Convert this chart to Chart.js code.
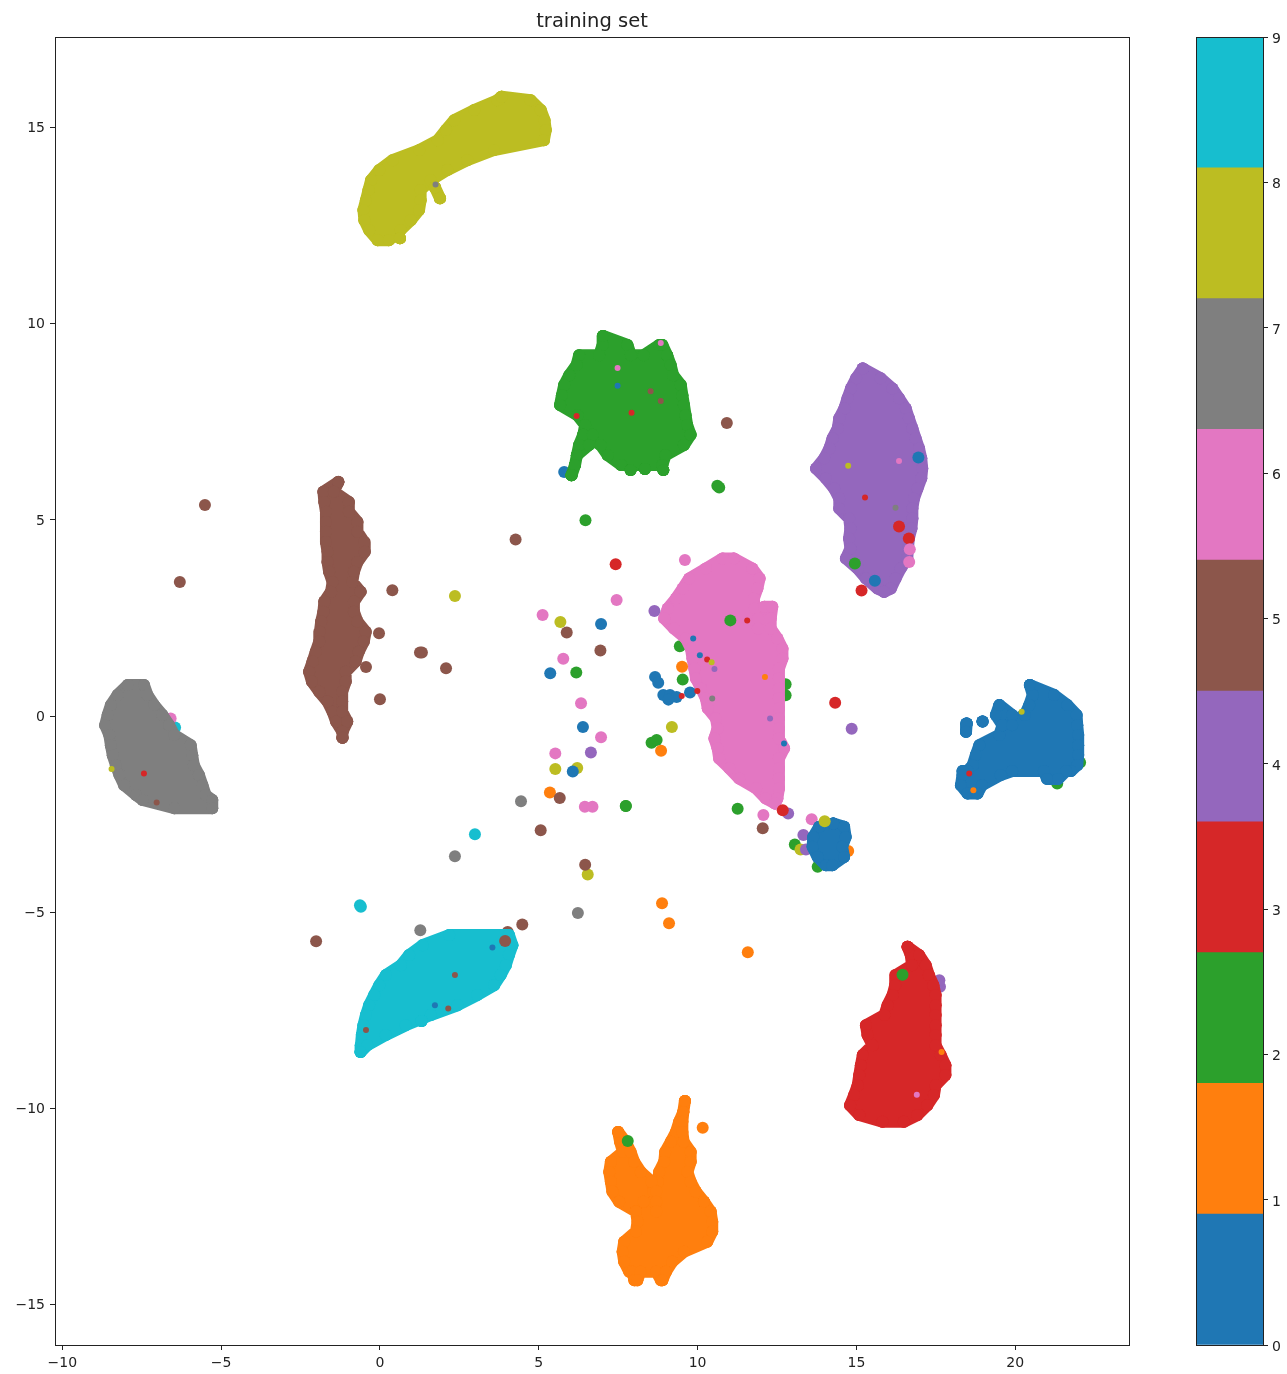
<!DOCTYPE html>
<html>
<head>
<meta charset="utf-8">
<title>training set</title>
<script src="https://cdn.jsdelivr.net/npm/chart.js@4"></script>
<style>
html,body{margin:0;padding:0;background:#fff;overflow:hidden}
canvas{position:absolute;top:0;filter:blur(0.45px)}
#main{left:0}
#bar{left:1180px}
</style>
</head>
<body>
<canvas id="main" width="1184" height="1374"></canvas>
<canvas id="bar" width="107" height="1374"></canvas>
<script>
const titleText = 'training set';
const classColors = ['#1f77b4','#ff7f0e','#2ca02c','#d62728','#9467bd','#8c564b','#e377c2','#7f7f7f','#bcbd22','#17becf'];
const colorbarLabels = ['0','1','2','3','4','5','6','7','8','9'];
const colorbarSegments = [0.9,0.9,0.9,0.9,0.9,0.9,0.9,0.9,0.9,0.9];

const rows0 = [
  [[0.79,20.46,20.46],[0.54,20.55,21.22],[0.28,20.44,21.64],[0.03,20.3,21.93],[-0.23,19.6,21.95],[-0.48,19.5,21.98],[-0.74,18.87,21.98],[-0.99,18.76,21.98],[-1.25,18.66,21.95],[-1.4,18.5,21.75]],
  [[0.28,19.5,19.5],[0.03,19.39,19.9],[-0.23,19.6,19.9]],
  [[-0.19,18.47,18.47],[-0.4,18.45,18.45]],
  [[-0.14,18.97,18.97]],
  [[-1.4,18.34,19.9],[-1.5,18.34,19.54],[-1.76,18.29,18.95],[-1.97,18.5,18.81]],
  [[-1.4,20.9,21.6],[-1.6,21.0,21.35]],
  [[-2.74,14.27,14.27],[-2.82,13.83,14.61],[-3.08,13.64,14.66],[-3.33,13.62,14.55],[-3.59,13.78,14.61],[-3.8,14.04,14.24]]
];
const rows1 = [
  [[-9.81,9.6,9.6],[-10.09,9.55,9.55],[-10.34,9.42,9.52],[-10.6,9.32,9.52],[-10.85,9.16,9.56],[-11.11,8.98,9.78],[-11.36,8.95,9.78],[-11.62,8.79,9.68],[-11.87,8.75,9.78],[-12.12,8.6,9.94],[-12.38,8.6,10.2]],
  [[-10.6,7.5,7.5],[-10.85,7.56,7.73],[-11.11,7.65,7.89],[-11.36,7.27,8.0],[-11.62,7.22,8.21],[-11.87,7.27,8.55],[-12.12,7.32,8.7],[-12.38,7.53,8.7],[-12.63,8.06,8.7]],
  [[-12.38,8.3,10.2],[-12.63,8.06,10.41],[-12.89,8.11,10.46],[-13.14,8.06,10.46],[-13.4,7.69,10.3],[-13.65,7.64,9.57],[-13.91,7.69,9.2],[-14.16,7.85,9.0]],
  [[-14.16,7.95,8.2],[-14.38,8.01,8.1]],
  [[-14.16,8.7,9.0],[-14.38,8.85,8.89]]
];
const rows2 = [
  [[9.69,7.02,7.02],[9.46,7.01,7.79],[9.2,6.9,7.9]],
  [[9.46,8.79,8.89],[9.2,8.3,9.04]],
  [[9.2,6.27,9.04],[8.95,6.19,9.15],[8.69,5.96,9.23],[8.44,5.8,9.47],[8.18,5.73,9.52],[7.93,5.67,9.57],[7.67,6.22,9.62],[7.42,6.46,9.67],[7.17,6.4,9.78],[6.91,6.95,9.57],[6.65,7.17,8.99],[6.4,7.59,8.89]],
  [[7.17,6.4,6.7],[6.91,6.27,6.58],[6.65,6.2,6.2],[6.4,6.14,6.14],[6.14,6.03,6.03]],
  [[6.27,7.89,7.89]],[[6.3,8.34,8.34]],[[6.27,8.92,8.92]]
];
const rows3 = [
  [[-5.88,16.61,16.61],[-6.09,16.71,16.97],[-6.35,16.75,17.18],[-6.6,16.24,17.28],[-6.86,16.22,17.42],[-7.11,16.14,17.49],[-7.37,15.98,17.49],[-7.62,15.88,17.49],[-7.88,15.3,17.49],[-8.13,15.35,17.49],[-8.39,15.51,17.49],[-8.64,15.2,17.65],[-8.9,15.14,17.8],[-9.15,15.09,17.8],[-9.41,15.04,17.49],[-9.66,14.93,17.44],[-9.92,14.8,17.23],[-10.17,15.09,16.92],[-10.34,15.82,16.49]]
];
const rows4 = [
  [[8.86,15.2,15.2],[8.61,14.99,15.76],[8.35,14.83,16.13],[8.1,14.72,16.34],[7.84,14.62,16.55],[7.59,14.46,16.65],[7.33,14.41,16.76],[7.08,14.25,16.86],[6.82,14.15,16.97],[6.57,13.99,17.04],[6.31,13.73,17.07],[6.06,14.04,17.04],[5.8,14.3,16.92],[5.55,14.46,16.81],[5.29,14.46,16.76],[5.04,14.77,16.76],[4.78,14.81,16.73],[4.53,14.77,16.65],[4.27,14.81,16.62],[4.02,14.67,16.6],[3.76,15.04,16.39],[3.51,15.3,16.23],[3.25,15.67,16.08],[3.17,15.87,15.87]]
];
const rows5 = [
  [[5.97,-1.31,-1.31],[5.72,-1.78,-1.45],[5.46,-1.75,-0.98],[5.21,-1.7,-0.98],[4.95,-1.7,-0.71],[4.7,-1.7,-0.71],[4.44,-1.7,-0.5],[4.19,-1.65,-0.48],[3.93,-1.65,-0.71],[3.68,-1.6,-0.82],[3.42,-1.49,-0.87],[3.17,-1.54,-0.61],[2.92,-1.75,-0.82],[2.66,-1.78,-0.82],[2.41,-1.85,-0.71],[2.15,-1.89,-0.45],[1.9,-1.91,-0.51],[1.64,-2.02,-0.67],[1.39,-2.12,-0.77],[1.13,-2.23,-1.08],[0.88,-2.14,-1.08],[0.62,-1.91,-1.19],[0.37,-1.65,-1.19],[0.11,-1.49,-1.19],[-0.14,-1.38,-1.03],[-0.4,-1.18,-1.18],[-0.55,-1.18,-1.18]]
];
const rows6 = [
  [[4.02,10.79,11.14],[3.76,10.26,11.72],[3.51,9.74,11.95],[3.25,9.53,11.88],[3.0,9.32,11.77],[2.74,9.06,11.8],[2.49,8.95,12.0],[2.23,9.26,12.3],[1.98,9.63,12.51],[1.72,9.79,12.67],[1.47,9.84,12.67],[1.21,9.9,12.56],[0.96,9.95,12.56],[0.7,10.11,12.56],[0.45,10.26,12.56],[0.2,10.32,12.56],[-0.06,10.58,12.56],[-0.31,10.63,12.56],[-0.57,10.53,12.56],[-0.82,10.63,12.72],[-1.08,10.68,12.56],[-1.33,11.0,12.56],[-1.59,11.31,12.56],[-1.84,11.84,12.56],[-2.1,12.15,12.51],[-2.23,12.44,12.44]],
  [[2.79,12.1,12.35],[2.49,11.9,12.3],[2.23,11.9,12.3]]
];
const rows7 = [
  [[0.79,-7.94,-7.43],[0.54,-8.26,-7.32],[0.28,-8.47,-7.11],[0.03,-8.57,-6.85],[-0.23,-8.65,-6.64],[-0.48,-8.52,-6.48],[-0.74,-8.47,-5.96],[-1.0,-8.41,-5.91],[-1.25,-8.31,-5.86],[-1.5,-8.2,-5.7],[-1.76,-8.05,-5.59],[-2.01,-7.68,-5.49],[-2.14,-7.47,-5.28],[-2.35,-6.47,-5.28]]
];
const rows8 = [
  [[15.79,3.83,3.83],[15.7,3.7,4.74],[15.45,2.97,5.06],[15.19,2.34,5.18],[14.94,2.08,5.22],[14.68,1.82,5.16],[14.43,1.24,3.59],[14.17,0.4,2.75],[13.92,-0.02,2.12],[13.66,-0.28,1.6],[13.41,-0.36,1.28],[13.15,-0.44,1.28],[12.9,-0.52,1.23],[12.64,-0.49,0.97],[12.39,-0.34,0.65],[12.13,-0.07,0.28]],
  [[13.48,1.73,1.73],[13.2,1.89,1.89]],
  [[12.18,0.63,0.63]]
];
const rows9 = [
  [[-5.58,2.18,4.06],[-5.84,1.34,4.17],[-6.09,0.92,4.06],[-6.35,0.66,3.96],[-6.6,0.19,3.8],[-6.86,-0.02,3.59],[-7.11,-0.18,3.06],[-7.37,-0.34,2.44],[-7.62,-0.44,1.6],[-7.88,-0.52,0.81],[-8.13,-0.57,0.18],[-8.39,-0.6,-0.4],[-8.56,-0.61,-0.61]],
  [[-7.77,1.31,1.31]]
];
const clusterRows = [rows0,rows1,rows2,rows3,rows4,rows5,rows6,rows7,rows8,rows9];

// single points: [x, y, class]
const pointsBehind = [[5.8,6.22,0],[9.44,1.78,2],[12.77,0.81,2],[12.77,0.53,2],[12.85,-2.48,4],[13.59,-2.63,6],[13.33,-3.03,4],[13.06,-3.27,2],[13.24,-3.4,8],[13.41,-3.4,4],[14.74,-3.44,1],[13.78,-3.84,2],[11.23,3.87,4],[-6.45,-0.29,9],[-6.59,-0.06,6],[4.02,-5.5,5],[17.63,-6.9,4],[17.61,-6.73,4],[22.04,-1.18,2],[21.32,-1.72,2]];
const pointsFront = [
  [4.27,4.5,5],[7.42,3.87,3],[7.45,2.96,6],[5.12,2.58,6],[5.68,2.4,8],[5.88,2.13,5],[6.96,2.35,0],[6.94,1.67,5],[5.77,1.46,6],[5.36,1.09,0],[6.18,1.11,2],[6.33,0.33,6],[6.39,-0.28,0],[6.96,-0.54,6],[5.52,-0.95,6],[6.64,-0.93,4],[5.52,-1.35,8],[6.21,-1.32,8],[6.07,-1.41,0],[5.35,-1.95,1],[5.66,-2.09,5],[4.44,-2.17,7],[6.45,-2.31,6],[6.69,-2.31,6],[7.74,-2.29,2],[5.06,-2.91,5],[6.54,-4.04,8],[6.46,-3.79,5],
  [2.36,3.06,8],[2.99,-3.01,9],[2.36,-3.57,7],[6.23,-5.02,7],[-0.63,-4.82,9],[-0.6,-4.86,9],[8.88,-4.77,1],[9.1,-5.28,1],[11.58,-6.02,1],
  [10.92,7.47,5],[6.47,4.99,2],[10.62,5.87,2],[10.68,5.83,2],[0.39,3.21,5],[-0.03,2.11,5],[-0.44,1.25,5],[0.0,0.43,5],[1.26,1.62,5],[1.32,1.62,5],[2.08,1.22,5],[-5.51,5.38,5],[-6.3,3.42,5],[-2.01,-5.74,5],[1.27,-5.46,7],[3.94,-5.73,5],[4.48,-5.31,5],
  [9.6,3.98,6],[8.64,2.68,4],[11.03,2.44,2],[9.51,1.26,1],[9.53,0.93,2],[8.66,1.0,0],[8.76,0.85,0],[8.92,0.54,0],[9.13,0.54,0],[9.34,0.49,0],[9.08,0.42,0],[9.76,0.6,0],[9.19,-0.28,8],[8.55,-0.68,2],[8.71,-0.61,2],[8.85,-0.88,1],[14.33,0.34,3],[14.85,-0.32,4],[7.74,-2.29,2],[11.26,-2.36,2],[12.07,-2.52,6],[12.05,-2.86,5],[12.68,-2.4,3],[14.0,-2.68,8],
  [16.95,6.59,0],[16.34,4.83,3],[16.65,4.53,3],[16.68,4.25,6],[16.66,3.93,6],[14.95,3.89,2],[15.58,3.45,0],[15.16,3.2,3],
  [16.45,-6.59,2],[10.16,-10.49,1],[7.8,-10.83,2],[6.03,6.14,2]
];
const pointsSmall = [[7.48,8.87,6],[7.48,8.42,0],[8.52,8.28,5],[8.84,8.03,5],[6.19,7.65,3],[7.92,7.73,3],[8.84,9.51,6],
  [14.74,6.38,8],[16.34,6.5,6],[15.27,5.57,3],[16.23,5.31,7],
  [11.56,2.44,3],[9.86,1.98,0],[10.07,1.55,0],[10.3,1.44,3],[10.44,1.37,8],[10.53,1.2,4],[12.12,1.0,1],[10.46,0.45,7],[12.28,-0.06,4],[12.72,-0.7,0],[9.5,0.51,3],[9.99,0.64,3],
  [-7.43,-1.46,3],[-7.03,-2.2,5],[-8.45,-1.35,8],
  [2.36,-6.6,5],[2.15,-7.45,5],[1.73,-7.37,0],[-0.44,-8.0,5],[3.54,-5.9,0],
  [17.68,-8.56,1],[16.9,-9.65,6],[20.2,0.11,8],[18.55,-1.46,3],[18.68,-1.89,1],[1.75,13.55,7]];

const xTicks = {min:-10.23,max:23.58,step:5};
const yTicks = {min:-16.03,max:17.31,step:5};

function lobesToPoints(lobes){
  const pts=[],gap=()=>pts.push({x:NaN,y:NaN});
  lobes.forEach(rows=>{
    rows.forEach(r=>{pts.push({x:r[1],y:r[0]});pts.push({x:r[2],y:r[0]});gap();});
    rows.forEach(r=>pts.push({x:r[1],y:r[0]}));gap();
    rows.forEach(r=>pts.push({x:r[2],y:r[0]}));gap();
  });
  return pts;
}
function pointSet(list,radius,order){
  return {data:list.map(p=>({x:p[0],y:p[1]})),pointRadius:radius,pointBorderWidth:0,
    pointBackgroundColor:list.map(p=>classColors[p[2]]),showLine:false,order:order};
}
const datasets=[pointSet(pointsBehind,6,3),pointSet(pointsFront,6,1),pointSet(pointsSmall,3,0)];
clusterRows.forEach((lobes,i)=>datasets.push({data:lobesToPoints(lobes),showLine:true,spanGaps:false,
  borderColor:classColors[i],backgroundColor:classColors[i],borderWidth:12,borderCapStyle:'round',borderJoinStyle:'round',
  pointRadius:6,pointBorderWidth:0,pointBackgroundColor:classColors[i],order:2}));

const frame={id:'frame',afterDraw(c){const a=c.chartArea,g=c.ctx;g.save();g.strokeStyle='#222';g.lineWidth=1;
  g.strokeRect(Math.round(a.left)+0.5,Math.round(a.top)+0.5,Math.round(a.right-a.left),Math.round(a.bottom-a.top));g.restore();}};
const minus=v=>String(v).replace('-','\u2212');
const tickFont={family:'"DejaVu Sans"',size:14};
function axis(t,extra){return Object.assign({type:'linear',min:t.min,max:t.max,
  ticks:{stepSize:t.step,includeBounds:false,color:'#222',font:tickFont,maxRotation:0,callback:minus},
  grid:{drawOnChartArea:false,drawTicks:true,tickLength:5,tickColor:'#222'},border:{display:false}},extra);}
const xAxis=axis(xTicks,{afterFit:s=>{s.height=29;}});
const yAxis=axis(yTicks,{afterFit:s=>{s.width=55;}});
xAxis.ticks.padding=5;yAxis.ticks.padding=5;yAxis.ticks.labelOffset=1;

new Chart(document.getElementById('main'),{type:'scatter',data:{datasets},plugins:[frame],options:{
  responsive:false,animation:false,devicePixelRatio:1,
  layout:{padding:{left:0,right:55,top:0,bottom:0}},
  plugins:{legend:{display:false},tooltip:{enabled:false},
    title:{display:true,fullSize:false,text:titleText,color:'#222',font:{family:'"DejaVu Sans"',size:19.5,weight:'normal',lineHeight:1.2},padding:{top:10,bottom:3.6}}},
  scales:{x:xAxis,y:yAxis}}});

new Chart(document.getElementById('bar'),{type:'bar',plugins:[frame],
  data:{labels:[''],datasets:colorbarSegments.map((v,i)=>({data:[v],backgroundColor:classColors[i],borderWidth:0,barPercentage:1,categoryPercentage:1}))},
  options:{responsive:false,animation:false,devicePixelRatio:1,
    layout:{padding:{left:16,right:0,top:37,bottom:29}},
    plugins:{legend:{display:false},tooltip:{enabled:false}},
    scales:{x:{stacked:true,display:false},
      y:{stacked:true,position:'right',min:0,max:9,afterFit:s=>{s.width=24;},
        ticks:{stepSize:1,color:'#222',font:{family:'"DejaVu Sans"',size:14},padding:4,labelOffset:2.5,callback:v=>colorbarLabels[v]},
        grid:{drawOnChartArea:false,drawTicks:true,tickLength:5,tickColor:'#222'},border:{display:false}}}}});
</script>
</body>
</html>
